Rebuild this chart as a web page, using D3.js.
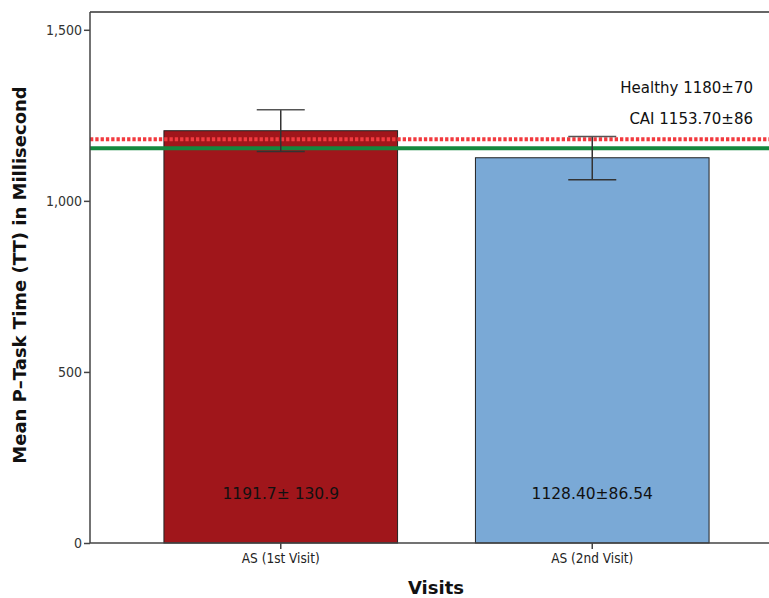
<!DOCTYPE html>
<html>
<head>
<meta charset="utf-8">
<script src="https://cdn.jsdelivr.net/npm/d3@7"></script>
<style>
  body { margin: 0; background: #fff; }
  svg { display: block; font-family: "DejaVu Sans", "Open Sans", sans-serif; }
</style>
</head>
<body>
<svg width="769" height="598"></svg>
<script>
// chart values
var visits = ["AS (1st Visit)", "AS (2nd Visit)"];
var means = [1205, 1126];
var errLow = [1144, 1062];
var errHigh = [1266, 1188];
var barLabels = ["1191.7\u00b1 130.9", "1128.40\u00b186.54"];
var barColors = ["#a0161b", "#7aa9d6"];
var refNames = ["Healthy 1180\u00b170", "CAI 1153.70\u00b186"];
var refValues = [1180, 1153.7];
var yTicks = [0, 500, 1000, 1500];

var svg = d3.select("svg");
var plotLeft = 90, plotTop = 12, plotRight = 769, plotBottom = 543;

var y = d3.scaleLinear().domain([0, 1552]).range([plotBottom, plotTop]);
var x = d3.scaleBand().domain(visits).range([125, 748]).paddingInner(0.25).paddingOuter(0.125);

var g = svg.append("g");

// frame top
g.append("line").attr("x1", plotLeft).attr("x2", plotRight).attr("y1", plotTop).attr("y2", plotTop)
  .attr("stroke", "#666").attr("stroke-width", 2);

// bars
g.selectAll(".bar")
  .data(visits)
  .enter()
  .append("rect")
  .attr("class", "bar")
  .attr("x", function(d) { return x(d); })
  .attr("y", function(d, i) { return y(means[i]); })
  .attr("width", x.bandwidth())
  .attr("height", function(d, i) { return y(0) - y(means[i]); })
  .style("fill", function(d, i) { return barColors[i]; })
  .style("stroke", "#222")
  .style("stroke-width", 1);

// bar value labels
g.selectAll(".blabel")
  .data(visits)
  .enter()
  .append("text")
  .attr("x", function(d) { return x(d) + x.bandwidth() / 2; })
  .attr("y", 499)
  .attr("text-anchor", "middle")
  .style("font-size", "15.5px")
  .style("fill", "#111")
  .text(function(d, i) { return barLabels[i]; });

// reference lines
g.append("line")
  .attr("x1", plotLeft).attr("x2", plotRight)
  .attr("y1", y(refValues[1])).attr("y2", y(refValues[1]))
  .attr("stroke", "#13883e").attr("stroke-width", 4);
g.append("line")
  .attr("x1", plotLeft).attr("x2", plotRight)
  .attr("y1", y(refValues[0])).attr("y2", y(refValues[0]))
  .attr("stroke", "#f23a3f").attr("stroke-width", 4)
  .attr("stroke-dasharray", "3.3,2");

// error bars
var eb = g.selectAll(".err")
  .data(visits)
  .enter()
  .append("g").attr("class", "err");
eb.append("line")
  .attr("x1", function(d) { return x(d) + x.bandwidth() / 2; })
  .attr("x2", function(d) { return x(d) + x.bandwidth() / 2; })
  .attr("y1", function(d, i) { return y(errHigh[i]); })
  .attr("y2", function(d, i) { return y(errLow[i]); })
  .attr("stroke", "#333").attr("stroke-width", 1.5);
eb.append("line")
  .attr("x1", function(d) { return x(d) + x.bandwidth() / 2 - 24; })
  .attr("x2", function(d) { return x(d) + x.bandwidth() / 2 + 24; })
  .attr("y1", function(d, i) { return y(errHigh[i]); })
  .attr("y2", function(d, i) { return y(errHigh[i]); })
  .attr("stroke", "#555").attr("stroke-width", 1.5);
eb.append("line")
  .attr("x1", function(d) { return x(d) + x.bandwidth() / 2 - 24; })
  .attr("x2", function(d) { return x(d) + x.bandwidth() / 2 + 24; })
  .attr("y1", function(d, i) { return y(errLow[i]); })
  .attr("y2", function(d, i) { return y(errLow[i]); })
  .attr("stroke", "#333").attr("stroke-width", 1.5);

// reference labels
g.selectAll(".rlabel")
  .data(refNames)
  .enter()
  .append("text")
  .attr("x", 753)
  .attr("y", function(d, i) { return 93 + i * 31; })
  .attr("text-anchor", "end")
  .style("font-size", "15px")
  .style("fill", "#111")
  .text(function(d) { return d; });

// y axis
var yAxis = g.append("g")
  .attr("transform", "translate(" + plotLeft + ",0)")
  .call(d3.axisLeft(y).tickValues(yTicks).tickSize(6).tickFormat(d3.format(",")));
yAxis.select(".domain").attr("d", "M0," + plotTop + "V" + plotBottom).attr("stroke", "#444").attr("stroke-width", 1.5);
yAxis.selectAll(".tick line").attr("stroke", "#444").attr("stroke-width", 1.5);
yAxis.selectAll(".tick text").attr("x", -8).style("font-size", "14px").style("fill", "#333").style("font-family", "DejaVu Sans Condensed, DejaVu Sans, sans-serif");

// x axis
var xAxis = g.append("g")
  .attr("transform", "translate(0," + plotBottom + ")")
  .call(d3.axisBottom(x).tickSize(6).tickSizeOuter(0));
xAxis.select(".domain").attr("d", "M" + plotLeft + ",0H" + plotRight).attr("stroke", "#444").attr("stroke-width", 1.5);
xAxis.selectAll(".tick line").attr("stroke", "#444").attr("stroke-width", 1.5);
xAxis.selectAll(".tick text").attr("y", 10).style("font-size", "13.5px").style("fill", "#222").style("font-family", "DejaVu Sans Condensed, DejaVu Sans, sans-serif");

// axis titles
svg.append("text")
  .attr("transform", "translate(26,275) rotate(-90)")
  .attr("text-anchor", "middle")
  .style("font-size", "18px")
  .style("font-weight", "bold")
  .style("fill", "#111")
  .text("Mean P\u2013Task Time (TT) in Millisecond");

svg.append("text")
  .attr("x", 436)
  .attr("y", 594)
  .attr("text-anchor", "middle")
  .style("font-size", "18px")
  .style("font-weight", "bold")
  .style("fill", "#111")
  .text("Visits");
</script>
</body>
</html>
